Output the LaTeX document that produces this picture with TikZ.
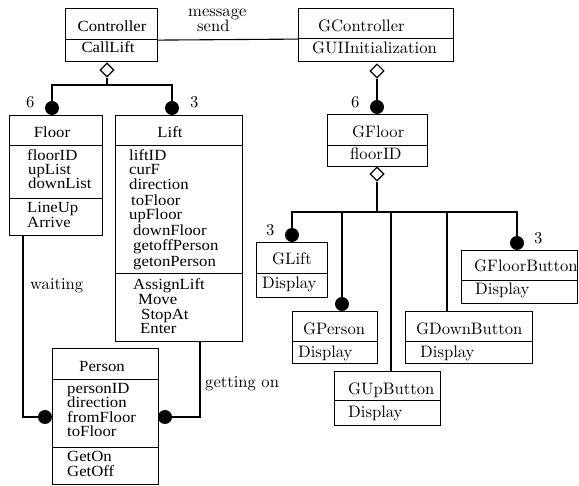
\documentclass[tikz,border=0pt]{standalone}
\usepackage{fontspec}
\newfontfamily\lf[FakeStretch=1.08]{Liberation Serif}
\newfontfamily\cmten{lmroman10-regular.otf}
\usetikzlibrary{shapes.geometric}
\tikzset{
  comp/.style={draw, line width=1.1pt, rectangle, inner sep=0pt, anchor=north west},
  lt/.style={font=\lf\fontsize{15.5}{15.5}\selectfont, inner sep=0pt, anchor=base west},
  rt/.style={font=\cmten\fontsize{16.6}{16.6}\selectfont, inner sep=0pt, anchor=base west},
  dot/.style={circle, fill=black, inner sep=0pt, minimum size=14pt},
  agg/.style={diamond, draw, fill=white, line width=1.1pt, inner sep=0pt, minimum width=14pt, minimum height=14pt},
  conn/.style={line width=1.1pt},
}
\begin{document}
\begin{tikzpicture}[x=1pt, y=-1pt]
\useasboundingbox (0,0) rectangle (579,486);

% ---------- compartments ----------
% Controller
\node[comp, minimum width=92pt, minimum height=31pt] (ctrlN) at (65,8) {};
\node[comp, minimum width=92pt, minimum height=22pt] (ctrlO) at (65,39) {};
% GController
\node[comp, minimum width=155pt, minimum height=30pt] (gctrlN) at (298,8) {};
\node[comp, minimum width=155pt, minimum height=23pt] (gctrlO) at (298,38) {};
% Floor
\node[comp, minimum width=93pt, minimum height=30pt] (floorN) at (9,115) {};
\node[comp, minimum width=93pt, minimum height=53pt] (floorA) at (9,145) {};
\node[comp, minimum width=93pt, minimum height=37pt] (floorO) at (9,198) {};
% Lift
\node[comp, minimum width=127pt, minimum height=30pt] (liftN) at (115,115) {};
\node[comp, minimum width=127pt, minimum height=128pt] (liftA) at (115,145) {};
\node[comp, minimum width=127pt, minimum height=68pt] (liftO) at (115,273) {};
% Person
\node[comp, minimum width=106pt, minimum height=31pt] (persN) at (52,348) {};
\node[comp, minimum width=106pt, minimum height=68pt] (persA) at (52,379) {};
\node[comp, minimum width=106pt, minimum height=37pt] (persO) at (52,447) {};
% GFloor
\node[comp, minimum width=100pt, minimum height=31pt] (gflN) at (327,114) {};
\node[comp, minimum width=100pt, minimum height=21pt] (gflO) at (327,145) {};
% GLift
\node[comp, minimum width=71pt, minimum height=31pt] (gliftN) at (256,242) {};
\node[comp, minimum width=71pt, minimum height=24pt] (gliftO) at (256,273) {};
% GFloorButton
\node[comp, minimum width=116pt, minimum height=30pt] (gfbN) at (461,250) {};
\node[comp, minimum width=116pt, minimum height=23pt] (gfbO) at (461,280) {};
% GPerson
\node[comp, minimum width=85pt, minimum height=30pt] (gpN) at (292,311) {};
\node[comp, minimum width=85pt, minimum height=22pt] (gpO) at (292,341) {};
% GDownButton
\node[comp, minimum width=127pt, minimum height=30pt] (gdnN) at (405,311) {};
\node[comp, minimum width=127pt, minimum height=22pt] (gdnO) at (405,341) {};
% GUpButton
\node[comp, minimum width=106pt, minimum height=29pt] (gupN) at (334,371) {};
\node[comp, minimum width=106pt, minimum height=25pt] (gupO) at (334,400) {};

% ---------- junction coordinates ----------
\coordinate (cj) at (107,85);
\coordinate (fw) at (23,235);
\coordinate (lw) at (200,341);
\coordinate (gj) at (377,212);
\coordinate (gj3) at (391,212);
\coordinate (gj4) at (447,212);

% ---------- connectors ----------
\draw[conn] (ctrlN.south east) -- (gctrlN.south west);
\node[agg] (cd) at (107,70) {};
\node[agg] (gd) at (377,71) {};
\node[agg] (gfd) at (377,174) {};
\node[dot] (fc) at (52,108) {};
\node[dot] (lc) at (172,108) {};
\node[dot] (gfc) at (377,107) {};
\node[dot] (pcL) at (45,417) {};
\node[dot] (pcR) at (165,417) {};
\node[dot] (glc) at (292,235) {};
\node[dot] (gpc) at (342,304) {};
\node[dot] (gfbc) at (517,243) {};

\draw[conn] (cd.south) -- (cj);
\draw[conn] (fc.north) |- (cj) -| (lc.north);
\draw[conn] (gd.south) -- (gfc.north);
\draw[conn] (gfd.south) -- (gj);
\draw[conn] (glc.north) |- (gj) -| (gfbc.north);
\draw[conn] (gpc.north) -- (gpc.north |- gj);
\draw[conn] (gj3) -- (gj3 |- gupN.north);
\draw[conn] (gj4) -- (gj4 |- gdnN.north);
\draw[conn] (fw) |- (pcL.west);
\draw[conn] (lw) |- (pcR.east);

% ---------- labels on connectors ----------
\node[rt] (msg1) at (188,17) {message};
\node[rt] (msg2) at (197,32) {send};
\node[rt] (wait) at (30,290) {waiting};
\node[rt] (geton) at (205,388) {getting on};
\node[rt] (m6a) at (26,108) {6};
\node[rt] (m3a) at (190,108) {3};
\node[rt] (m6b) at (351,108) {6};
\node[rt] (m3b) at (266,236) {3};
\node[rt] (m3c) at (534,244) {3};

% ---------- class texts (left) ----------
\node[lt, anchor=base] (tctrl) at (112,32) {Controller};
\node[lt, anchor=base] (tcall) at (108,53) {CallLift};
\node[lt, anchor=base] (tfloor) at (52,138) {Floor};
\node[lt, anchor=base] (tlift) at (170,138) {Lift};
\node[lt, anchor=base] (tpers) at (102,372) {Person};
\foreach \s/\x/\y [count=\i] in {floorID/27/161, upList/28/175, downList/28/189, LineUp/27/213, Arrive/27/228}
  \node[lt] (fl\i) at (\x,\y) {\s};
\foreach \s/\x/\y [count=\i] in {liftID/129/161, curF/129/175, direction/129/190, toFloor/131/206, upFloor/129/220, downFloor/133/236, getoffPerson/133/251, getonPerson/133/267, AssignLift/133/290, Move/138/305, StopAt/141/320, Enter/140/334}
  \node[lt] (li\i) at (\x,\y) {\s};
\foreach \s/\x/\y [count=\i] in {personID/67/394, direction/67/408, fromFloor/67/423, toFloor/67/437, GetOn/67/462, GetOff/67/477}
  \node[lt] (pe\i) at (\x,\y) {\s};

% ---------- class texts (right) ----------
\foreach \s/\x/\y [count=\i] in {GController/318/32, GUIInitialization/312/54, GFloor/352/138, floorID/350/160, GLift/272/265, Display/262/289, GFloorButton/474/272, Display/475/295, GPerson/303/335, Display/298/358, GDownButton/416/335, Display/420/358, GUpButton/348/395, Display/348/418}
  \node[rt] (rt\i) at (\x,\y) {\s};
\end{tikzpicture}
\end{document}
